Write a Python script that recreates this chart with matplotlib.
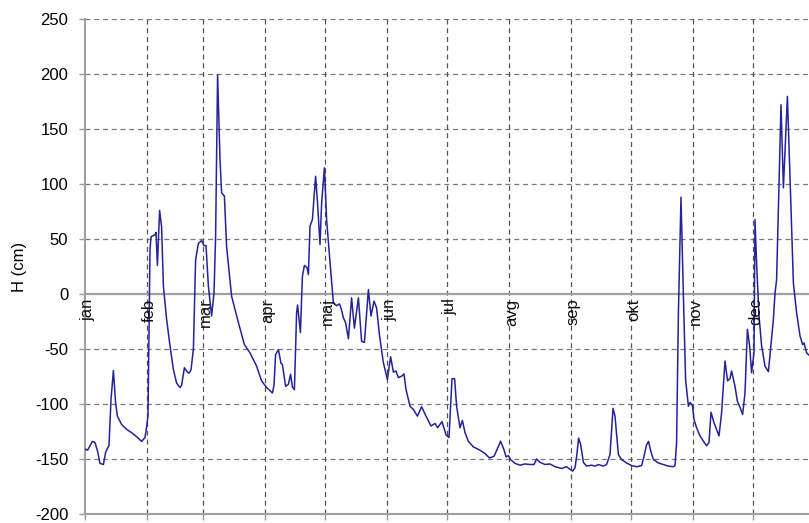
import matplotlib
matplotlib.use("Agg")
import matplotlib.pyplot as plt

plt.rcParams['font.family'] = ['Liberation Sans', 'DejaVu Sans']

# Data: day of year and water level H (cm)
days = [0, 1.3, 3.7, 5, 6.3, 7.5, 9.2, 10.3, 12, 13, 14.2, 15.3, 16.2, 18.3, 20.8, 24, 26,
        28.3, 30, 31, 31.5, 32.5, 33, 35, 35.5, 36.2, 37.3, 38.3, 39.2, 40.8, 42.5, 44.2,
        45.8, 47.5, 48.3, 49.7, 51, 52, 53, 54.2, 55.3, 56.7, 58.3, 59.5, 60.5, 61.7, 63.3,
        64.5, 65.3, 66.3, 67.5, 68.3, 69.7, 70.8, 73.3, 76.7, 79.7, 82.5, 85.8, 88.3, 90.8,
        93.7, 94.5, 95.3, 96.7, 98, 98.7, 100.3, 101.7, 102.8, 103.7, 104.7, 105.8, 106.3,
        107.7, 108.7, 109.7, 111, 111.7, 112.5, 113.7, 115.3, 116.3, 117.5, 118.3, 119.7,
        120.8, 122.5, 124.2, 125.8, 127.2, 128, 129.2, 130.3, 131.7, 133.3, 134.7, 136.7,
        138.3, 139.7, 141.7, 143, 144.5, 145.8, 147.2, 149.2, 151.2, 152.8, 154.2, 155.5,
        156.7, 158.3, 159.5, 160.5, 162.5, 164.2, 166.2, 168.3, 170.5, 173, 175, 176.3,
        178.5, 180.5, 182, 183.5, 184.8, 185.8, 187.5, 188.7, 190, 191.7, 194.2, 197.5,
        200, 202.2, 204.5, 206.2, 207.8, 209.5, 210.5, 211.7, 212.8, 215, 217.5, 220,
        222.5, 224.5, 225.8, 227.5, 230, 232.5, 235, 238.3, 240.8, 242.2, 243.8, 245,
        245.8, 246.8, 247.8, 249.2, 250.8, 253.3, 255, 256.7, 259.2, 260.8, 262.5, 264,
        265, 266.7, 268.3, 270.8, 273.3, 275.8, 278.3, 279.5, 280.8, 281.8, 282.7, 284.2,
        286.7, 289.2, 291.7, 294.2, 295, 295.8, 296.7, 298, 299.2, 300.3, 301.7, 302.5,
        303.7, 304.5, 305.8, 307.5, 309.2, 310.8, 312, 313, 314.5, 317, 318.3, 320, 321.3,
        322.5, 323.3, 325, 326.2, 327.5, 328.8, 330, 331.2, 332.3, 333.3, 334.5, 335,
        335.8, 337, 338.3, 340, 341.7, 342.8, 344.2, 345, 345.8, 348, 349.2, 351.2, 354.2,
        355.8, 357.5, 358.8, 359.5, 360.8, 362, 363]
level = [-141, -142, -134, -135, -143, -154, -155, -144, -137.5, -96, -69.5, -99, -111,
         -118.6, -123, -127, -130, -134, -130.5, -118.6, -110, 40, 52, 54, 56, 26, 76, 61,
         7, -23, -47, -68.6, -81, -85, -83, -67, -70.6, -72, -69, -50, 31, 46, 48.6, 44,
         44, 7, -20, 1, 52, 199.5, 122, 92, 89, 43, -2, -26, -46, -53.5, -65.6, -79, -85,
         -90, -83, -55, -50.5, -63, -64, -84, -82, -73, -84.6, -87, -17, -10, -35, 16, 26,
         24, 17.7, 61.6, 67.7, 107, 82, 45, 82, 114.7, 67.7, 29, -8, -10.6, -9, -12.6,
         -21.6, -26, -40.7, -3.5, -31, -3.5, -43, -44, 4, -20, -6.5, -12.6, -36.8, -62.6,
         -77.7, -57, -71, -70, -76, -74.7, -72.7, -86.8, -102, -105, -111, -102.5, -111,
         -120, -117.7, -121.6, -116, -128, -130.5, -77, -77, -102, -121.6, -115, -126,
         -134, -139, -142, -145, -149, -147.6, -140.7, -133.8, -141.6, -148, -147, -150.5,
         -154, -155.6, -154.5, -155, -155, -150, -153, -155, -154.5, -157, -158.6, -157,
         -159, -161, -158, -148, -131, -136.6, -153, -156.5, -155.6, -156.5, -155, -156.5,
         -155, -146, -104, -111, -146, -150.5, -153.6, -156, -157, -156, -147.6, -137,
         -134, -141.6, -150.5, -153.6, -155, -156.5, -157, -156, -135, -17, 88, -2, -78,
         -102, -98.6, -101, -114, -121.6, -129, -133.8, -138, -135, -107.5, -117, -129,
         -108, -61, -79, -77, -70, -84, -97.5, -103, -109.5, -90, -32, -47, -71.6, -53,
         67.7, 28, -20, -47, -65.6, -70.6, -50, -23, 0.5, 13, 172, 96.5, 179.7, 10, -17,
         -38, -46, -44.5, -53.5, -55.6, -57]

months = ['jan', 'feb', 'mar', 'apr', 'maj', 'jun', 'jul', 'avg', 'sep', 'okt', 'nov', 'dec']
month_starts = [0, 31, 59, 90, 120, 151, 181, 212, 243, 273, 304, 334]
yticks = [-200, -150, -100, -50, 0, 50, 100, 150, 200, 250]

W, H = 809, 523
fig = plt.figure(figsize=(W / 100, H / 100), dpi=100)
ax = fig.add_axes([85 / W, (H - 514) / H, 730 / W, 495 / H])

ax.set_xlim(0, 365)
ax.set_ylim(-200, 250)

# horizontal dashed grid
for yv in yticks:
    if yv in (0, -200):
        continue
    ax.axhline(yv, color='#7a7a7a', lw=0.9, ls=(0, (4, 3)), zorder=1)
# vertical month lines
for ms in month_starts[1:]:
    ax.axvline(ms, color='#555555', lw=0.9, ls=(0, (4, 3)), zorder=1)
# zero line
ax.axhline(0, color='#a0a0a0', lw=1.6, zorder=1)

ax.plot(days, level, color='#23239a', lw=1.1, zorder=3)

for ms, name in zip(month_starts, months):
    ax.text(ms + 1.2, -4, name, rotation=90, ha='center', va='top', fontsize=12,
            color='#111111', zorder=4)

ax.set_yticks(yticks)
ax.set_yticklabels([str(v) for v in yticks], fontsize=12)
ax.set_xticks(month_starts)
ax.set_xticklabels([])
ax.tick_params(axis='both', direction='out', length=4, width=1, color='#999999',
               pad=8)
ax.set_ylabel('H (cm)', fontsize=12, labelpad=6)

for side in ('top', 'right'):
    ax.spines[side].set_visible(False)
for side in ('left', 'bottom'):
    ax.spines[side].set_color('#a0a0a0')
    ax.spines[side].set_linewidth(1.5)

fig.savefig('out.png', dpi=100)
